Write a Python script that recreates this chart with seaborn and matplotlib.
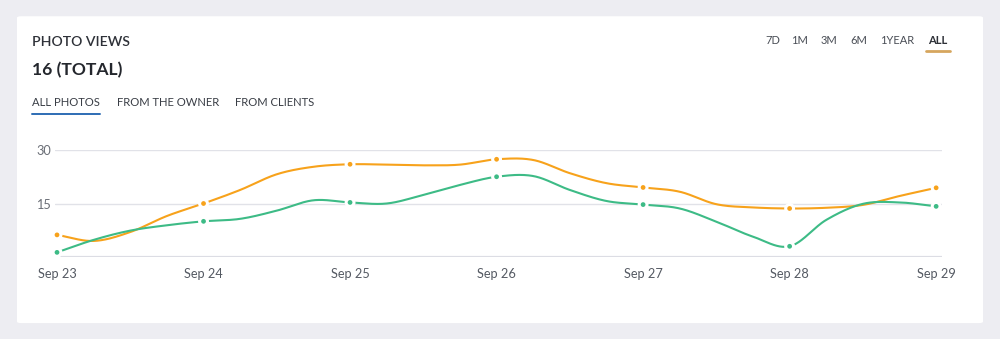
import numpy as np
import pandas as pd
import matplotlib
matplotlib.use("Agg")
import matplotlib.pyplot as plt
from matplotlib.patches import FancyBboxPatch
import seaborn as sns

# Daily labels and readings every quarter day (views)
day_labels = ["Sep 23", "Sep 24", "Sep 25", "Sep 26", "Sep 27", "Sep 28", "Sep 29"]
y_ticks = [15, 30]
range_buttons = ["7D", "1M", "3M", "6M", "1YEAR", "ALL"]
tabs = ["ALL PHOTOS", "FROM THE OWNER", "FROM CLIENTS"]

all_views = [6.2, 4.5, 7.0, 11.5, 15.0, 18.8, 23.2, 25.3, 26.0,
             25.9, 25.7, 25.9, 27.4, 27.2, 23.5, 20.7, 19.5,
             18.3, 14.8, 13.9, 13.6, 13.8, 14.6, 17.1, 19.4]
client_views = [1.3, 4.8, 7.4, 8.9, 10.0, 10.7, 13.0, 15.9, 15.3,
                15.0, 17.4, 20.2, 22.5, 22.7, 18.8, 15.7, 14.7,
                13.6, 9.9, 5.7, 3.0, 10.4, 14.9, 15.3, 14.2]

ORANGE = "#F7A21B"
GREEN = "#3DBB86"


def smooth_curve(x, y, n=40):
    """Catmull-Rom curve through the readings."""
    x = np.asarray(x, float)
    y = np.asarray(y, float)
    px = np.concatenate([[2 * x[0] - x[1]], x, [2 * x[-1] - x[-2]]])
    py = np.concatenate([[2 * y[0] - y[1]], y, [2 * y[-1] - y[-2]]])
    xs, ys = [], []
    for i in range(1, len(px) - 2):
        t = np.linspace(0, 1, n, endpoint=(i == len(px) - 3))
        t2, t3 = t * t, t * t * t
        for p, out in ((px, xs), (py, ys)):
            p0, p1, p2, p3 = p[i - 1], p[i], p[i + 1], p[i + 2]
            out.append(0.5 * (2 * p1 + (-p0 + p2) * t
                              + (2 * p0 - 5 * p1 + 4 * p2 - p3) * t2
                              + (-p0 + 3 * p1 - 3 * p2 + p3) * t3))
    return np.concatenate(xs), np.concatenate(ys)


sns.set_theme(style="white")
plt.rcParams["font.family"] = ["Lato", "DejaVu Sans"]

fig = plt.figure(figsize=(10, 3.39), dpi=100)
fig.patch.set_facecolor("#EDEDF2")

# white card behind everything
card = FancyBboxPatch((0.017, 0.047), 0.966, 0.905,
                      boxstyle="round,pad=0,rounding_size=0.004",
                      transform=fig.transFigure, facecolor="white",
                      edgecolor="none", zorder=-10)
fig.patches.append(card)

ax = fig.add_axes([0.055, 0.2419, 0.887, 0.3156])
ax.set_facecolor("none")
ax.set_zorder(2)

t = np.arange(len(all_views)) * 0.25
frames = []
for name, vals in (("all", all_views), ("clients", client_views)):
    cx, cy = smooth_curve(t, vals)
    frames.append(pd.DataFrame({"day": cx, "views": cy, "series": name}))
curves = pd.concat(frames, ignore_index=True)

dots = pd.concat([
    pd.DataFrame({"day": t[::4], "views": np.asarray(all_views)[::4], "series": "all"}),
    pd.DataFrame({"day": t[::4], "views": np.asarray(client_views)[::4], "series": "clients"}),
], ignore_index=True)

palette = {"all": ORANGE, "clients": GREEN}
sns.lineplot(data=curves, x="day", y="views", hue="series", palette=palette,
             linewidth=1.5, legend=False, ax=ax, clip_on=False, sort=False,
             estimator=None, zorder=3)
sns.scatterplot(data=dots, x="day", y="views", hue="series", palette=palette,
                s=32, edgecolor="white", linewidth=2.2, legend=False, ax=ax,
                clip_on=False, zorder=5)

ax.set_xlim(-0.0137, 6.04)
ax.set_ylim(0, 30)
ax.set_xticks(range(len(day_labels)))
ax.set_xticklabels(day_labels, fontsize=9.2, color="#555A63")
ax.set_yticks(y_ticks)
ax.set_yticklabels([str(v) for v in y_ticks], fontsize=9.2, color="#6A6E76")
ax.tick_params(axis="y", length=0, pad=3)
ax.tick_params(axis="x", length=0, pad=8)
ax.set_xlabel("")
ax.set_ylabel("")
for v in y_ticks:
    ax.axhline(v, color="#E1E2E8", linewidth=1.0, zorder=0)
ax.axhline(0, color="#DCDDE4", linewidth=1.6, zorder=0)
for s in ax.spines.values():
    s.set_visible(False)

# header
fig.text(0.032, 1 - 42 / 339, "PHOTO VIEWS", fontsize=10.1, color="#2E3138",
         fontweight="semibold", va="center", ha="left")
fig.text(0.032, 1 - 70 / 339, "16 (TOTAL)", fontsize=12.6, color="#24272D",
         fontweight="bold", va="center", ha="left")

tab_x = [32, 117, 235]
for x, label in zip(tab_x, tabs):
    fig.text(x / 1000, 1 - 103 / 339, label, fontsize=8.1, color="#3A3E46",
             va="center", ha="left")
fig.add_artist(plt.Line2D([32 / 1000, 100 / 1000], [1 - 114 / 339] * 2,
                          color="#2E6DB4", linewidth=1.4, transform=fig.transFigure))

btn_x = [773, 800, 829, 859, 897, 938]
for x, label in zip(btn_x, range_buttons):
    fig.text(x / 1000, 1 - 40 / 339, label, fontsize=8.0,
             color="#2E3138" if label == "ALL" else "#4A4E56",
             fontweight="bold" if label == "ALL" else "normal",
             va="center", ha="center")
fig.add_artist(plt.Line2D([926 / 1000, 950 / 1000], [1 - 51 / 339] * 2,
                          color="#D6A65E", linewidth=2.0, transform=fig.transFigure))

fig.savefig("out.png", dpi=100, facecolor=fig.get_facecolor())
